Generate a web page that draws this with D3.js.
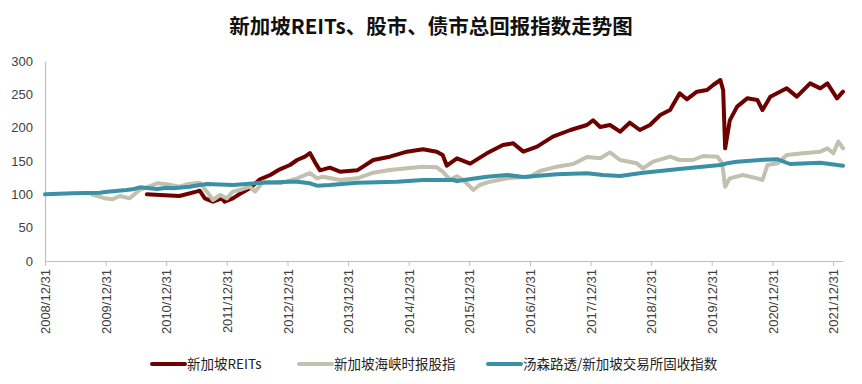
<!DOCTYPE html>
<html lang="zh">
<head>
    <meta charset="UTF-8">
    <title>新加坡REITs、股市、债市总回报指数走势图</title>
    <script src="https://d3js.org/d3.v7.min.js"></script>
</head>
<body>
<div id="chart">
    <svg></svg>
</div>
</body>

<style>
    body {
        margin: 0;
        background: #fff;
    }

    text {
        font-family: "Liberation Sans", Arial, "Noto Sans CJK SC", sans-serif;
    }

    .title {
        font-family: "Noto Sans CJK SC", sans-serif;
        font-weight: bold;
        font-size: 20.5px;
        fill: #111;
    }

    .axis text {
        font-size: 13px;
        fill: #404040;
    }

    .legend text {
        font-family: "Noto Sans CJK SC", sans-serif;
        font-size: 13.5px;
        fill: #222;
    }

    path.series {
        fill: none;
        stroke-width: 4px;
        stroke-linejoin: round;
        stroke-linecap: round;
    }
</style>

<script>
    // 新加坡REITs
    const reitsDates = ['2010-09-06', '2010-11-24', '2011-03-21', '2011-07-01', '2011-07-21', '2011-08-21',
        '2011-10-09', '2011-12-01', '2011-12-18', '2012-02-06', '2012-03-18', '2012-05-18', '2012-07-18',
        '2012-09-18', '2012-11-15', '2013-01-15', '2013-02-27', '2013-04-15', '2013-05-15', '2013-06-15',
        '2013-07-15', '2013-09-12', '2013-11-12', '2014-02-24', '2014-06-01', '2014-09-09', '2014-12-21',
        '2015-03-27', '2015-06-18', '2015-07-24', '2015-08-18', '2015-10-18', '2016-01-06', '2016-04-15',
        '2016-07-21', '2016-09-21', '2016-11-21', '2017-02-12', '2017-05-18', '2017-09-01', '2017-12-09',
        '2018-01-15', '2018-02-27', '2018-04-27', '2018-06-27', '2018-08-24', '2018-10-24', '2018-12-24',
        '2019-02-24', '2019-04-24', '2019-06-21', '2019-08-03', '2019-10-03', '2019-12-03', '2020-01-09',
        '2020-02-21', '2020-03-09', '2020-03-21', '2020-04-18', '2020-06-01', '2020-08-01', '2020-10-01',
        '2020-11-01', '2020-12-18', '2021-03-27', '2021-05-27', '2021-08-15', '2021-10-15', '2021-11-27',
        '2022-01-24', '2022-03-01'];
    const reitsValues = [100, 99, 97.5, 104, 105.5, 94,
        89, 94, 89, 94, 100.5, 109, 122.5,
        129, 137.5, 144, 151.5, 156.5, 162, 148,
        136, 140, 134, 136, 151.5, 156.5, 164,
        167.5, 164, 159, 143, 154, 146, 161.5,
        174, 176.5, 164, 171.5, 186.5, 196.5, 204,
        211, 201, 204, 194, 207.5, 196.5, 204,
        219, 226.5, 251.5, 242.5, 254, 256.5, 264,
        271.5, 256, 169, 211, 231.5, 244, 241.5,
        226.5, 246.5, 259, 246.5, 266.5, 259, 266.5,
        244, 254];

    // 新加坡海峡时报股指
    const stiDates = ['2009-10-09', '2009-12-27', '2010-02-09', '2010-03-27', '2010-05-24', '2010-07-24',
        '2010-11-06', '2011-01-06', '2011-03-21', '2011-05-03', '2011-07-21', '2011-09-03', '2011-10-09',
        '2011-11-21', '2012-01-01', '2012-02-06', '2012-03-18', '2012-05-18', '2012-06-18', '2012-08-06',
        '2012-11-15', '2013-02-27', '2013-05-15', '2013-06-27', '2013-08-01', '2013-11-12', '2014-02-24',
        '2014-06-01', '2014-09-09', '2014-12-21', '2015-03-27', '2015-06-18', '2015-07-24', '2015-09-06',
        '2015-10-18', '2015-11-24', '2016-01-06', '2016-01-24', '2016-03-03', '2016-05-03', '2016-08-15',
        '2016-11-21', '2017-01-01', '2017-03-01', '2017-06-12', '2017-09-18', '2017-12-09', '2018-02-27',
        '2018-04-27', '2018-06-27', '2018-10-06', '2018-11-12', '2019-01-12', '2019-04-24', '2019-06-21',
        '2019-09-09', '2019-11-09', '2020-02-03', '2020-03-03', '2020-03-21', '2020-04-18', '2020-07-06',
        '2020-10-01', '2020-11-01', '2020-12-01', '2021-02-01', '2021-03-27', '2021-07-03', '2021-10-15',
        '2021-11-27', '2022-01-01', '2022-02-01', '2022-03-01'];
    const stiValues = [100, 94, 92.5, 97.5, 94, 106.5,
        116.5, 115, 111.5, 115, 117.5, 104, 91.5,
        99, 94, 104, 106.5, 111.5, 104, 119,
        116.5, 124, 132, 124, 126.5, 121.5, 124,
        132.5, 136.5, 139, 141.5, 140.5, 134, 122,
        127, 121.5, 111.5, 106.5, 114, 119, 124,
        126, 126.5, 135, 141.5, 145.5, 156, 154,
        163, 151.5, 146.5, 139, 149, 156.5, 151.5,
        151.5, 157.5, 156.5, 146.5, 111.5, 124, 129,
        124, 121.5, 144, 146.5, 159, 161.5, 164,
        169, 161.5, 179, 169];

    // 汤森路透/新加坡交易所固收指数
    const bondDates = ['2008-12-31', '2009-06-15', '2009-11-27', '2010-01-09', '2010-05-06', '2010-06-12',
        '2010-07-24', '2010-11-06', '2011-01-06', '2011-02-09', '2011-05-21', '2011-07-21', '2011-09-03',
        '2012-02-06', '2012-08-06', '2013-01-15', '2013-02-27', '2013-05-15', '2013-06-27', '2013-09-12',
        '2014-02-24', '2014-10-21', '2015-03-27', '2015-09-24', '2015-10-18', '2016-04-15', '2016-08-15',
        '2016-11-21', '2017-06-12', '2017-12-09', '2018-03-15', '2018-06-27', '2018-11-12', '2019-01-12',
        '2019-06-03', '2019-08-03', '2019-12-21', '2020-02-21', '2020-04-01', '2020-06-01', '2020-11-06',
        '2021-02-01', '2021-04-15', '2021-10-15', '2022-03-01'];
    const bondValues = [100, 101.5, 102.5, 104, 106.5, 107.5,
        110.5, 108, 110, 109, 111.5, 114, 115.5,
        114, 117.5, 119, 119, 116.5, 113, 114,
        117.5, 119, 121.5, 121.5, 120, 126.5, 129,
        126, 130, 131.5, 129, 127.5, 132.5, 134,
        137.5, 139, 142.5, 144, 146.5, 149, 152,
        152.5, 145.5, 147.5, 143];

    const seriesNames = ['新加坡REITs', '新加坡海峡时报股指', '汤森路透/新加坡交易所固收指数'];
    const seriesColors = ['#6e0000', '#c2c0ae', '#3a91a5'];
    const tickLabels = ['2008/12/31', '2009/12/31', '2010/12/31', '2011/12/31', '2012/12/31', '2013/12/31',
        '2014/12/31', '2015/12/31', '2016/12/31', '2017/12/31', '2018/12/31', '2019/12/31',
        '2020/12/31', '2021/12/31'];
    const yTicks = [0, 50, 100, 150, 200, 250, 300];

    const width = 862;
    const height = 384;
    const margin = {top: 61, right: 19, bottom: 123, left: 45};

    const parseDate = d3.timeParse('%Y-%m-%d');
    const parseTick = d3.timeParse('%Y/%m/%d');

    const series = [
        {name: seriesNames[0], color: seriesColors[0],
            points: reitsDates.map((d, i) => ({date: parseDate(d), value: reitsValues[i]}))},
        {name: seriesNames[1], color: seriesColors[1],
            points: stiDates.map((d, i) => ({date: parseDate(d), value: stiValues[i]}))},
        {name: seriesNames[2], color: seriesColors[2],
            points: bondDates.map((d, i) => ({date: parseDate(d), value: bondValues[i]}))}
    ];

    const svg = d3.select('svg')
        .attr('width', width)
        .attr('height', height);

    const x = d3.scaleTime()
        .domain([parseDate('2008-12-31'), parseDate('2022-03-01')])
        .range([margin.left, width - margin.right]);

    const y = d3.scaleLinear()
        .domain([0, 300])
        .range([height - margin.bottom, margin.top]);

    // title
    svg.append('text')
        .attr('class', 'title')
        .attr('x', 431)
        .attr('y', 34)
        .attr('text-anchor', 'middle')
        .text('新加坡REITs、股市、债市总回报指数走势图');

    // y axis: line only, no ticks
    const yAxis = svg.append('g')
        .attr('class', 'axis')
        .attr('transform', `translate(${margin.left},0)`)
        .call(d3.axisLeft(y).tickValues(yTicks).tickSize(0).tickPadding(12));
    yAxis.select('.domain').attr('stroke', '#bfbfbf').attr('stroke-width', 1.2);

    // x axis with rotated date labels
    const xAxis = svg.append('g')
        .attr('class', 'axis')
        .attr('transform', `translate(0,${height - margin.bottom})`)
        .call(d3.axisBottom(x)
            .tickValues(tickLabels.map(parseTick))
            .tickSizeInner(5)
            .tickSizeOuter(0)
            .tickFormat(d3.timeFormat('%Y/%m/%d')));
    xAxis.select('.domain').attr('stroke', '#bfbfbf').attr('stroke-width', 1.2);
    xAxis.selectAll('.tick line').attr('stroke', '#bfbfbf');
    xAxis.selectAll('.tick text')
        .attr('text-anchor', 'end')
        .attr('transform', 'rotate(-90)')
        .attr('x', -8)
        .attr('y', 0)
        .attr('dy', '0.35em');

    const line = d3.line()
        .x(d => x(d.date))
        .y(d => y(d.value));

    svg.append('g')
        .selectAll('path')
        .data(series)
        .join('path')
        .attr('class', 'series')
        .attr('stroke', d => d.color)
        .attr('d', d => line(d.points));

    // legend
    const legendX = [152, 299, 488];
    const legend = svg.append('g')
        .attr('class', 'legend')
        .attr('transform', 'translate(0,364)');

    const item = legend.selectAll('g')
        .data(series)
        .join('g')
        .attr('transform', (d, i) => `translate(${legendX[i]},0)`);

    item.append('line')
        .attr('x1', 0)
        .attr('x2', 33)
        .attr('stroke', d => d.color)
        .attr('stroke-width', 4)
        .attr('stroke-linecap', 'round');

    item.append('text')
        .attr('x', 35)
        .attr('dy', '0.35em')
        .text(d => d.name);
</script>
</html>
